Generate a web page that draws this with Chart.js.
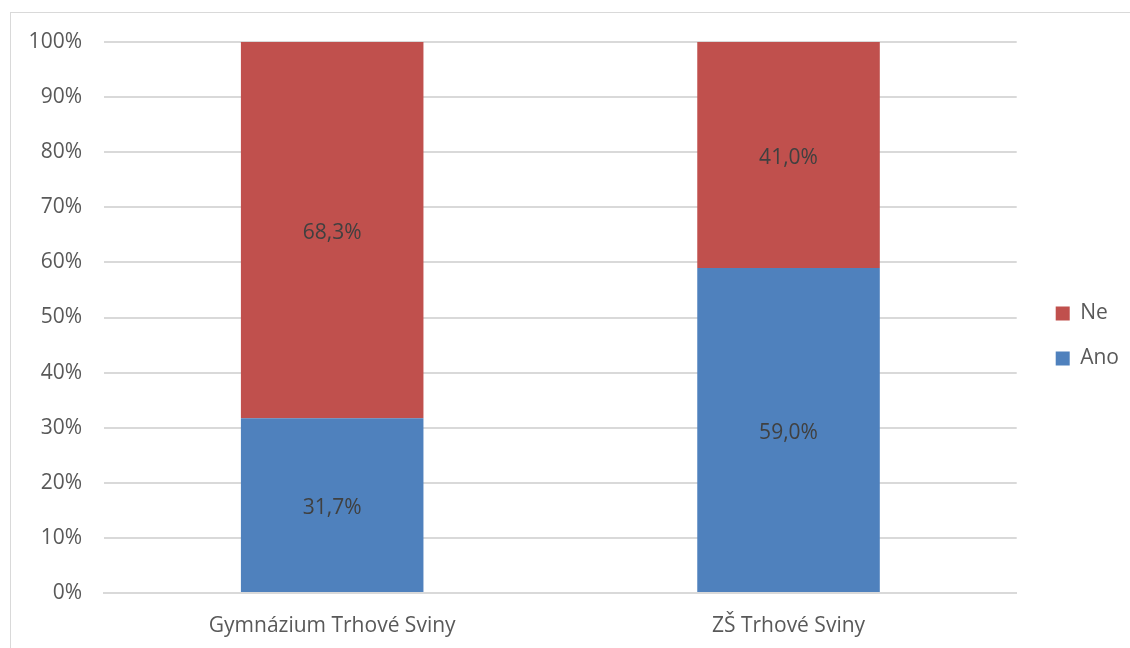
<!DOCTYPE html>
<html>
<head>
<meta charset="utf-8">
<script src="https://cdn.jsdelivr.net/npm/chart.js@4/dist/chart.umd.min.js"></script>
<style>
  html, body { margin: 0; padding: 0; background: #fff; }
  #wrap { position: relative; width: 1130px; height: 648px; overflow: hidden; }
  #frame { position: absolute; left: 10px; top: 12px; width: 1200px; height: 700px; border: 1px solid #d9d9d9; box-sizing: border-box; }
  #chartBox { position: absolute; left: 0; top: 0; width: 1130px; height: 648px; }
</style>
</head>
<body>
<div id="wrap">
  <div id="frame"></div>
  <div id="chartBox"><canvas id="chart" width="1130" height="648"></canvas></div>
</div>
<script>
// Data
const categories = ['Gymnázium Trhové Sviny', 'ZŠ Trhové Sviny'];
const ano = [31.7, 59.0];
const ne = [68.3, 41.0];
const yTicks = [0, 10, 20, 30, 40, 50, 60, 70, 80, 90, 100];

const textColor = '#595959';
const fontFamily = '"Open Sans", Lato, sans-serif';
const fontSize = 21;

// Popisky hodnot uprostřed segmentů
const valueLabels = {
    id: 'valueLabels',
    afterDatasetsDraw(chart) {
        const ctx = chart.ctx;
        ctx.save();
        ctx.font = fontSize + 'px ' + fontFamily;
        ctx.fillStyle = '#404040';
        ctx.textAlign = 'center';
        ctx.textBaseline = 'middle';
        chart.data.datasets.forEach((ds, i) => {
            chart.getDatasetMeta(i).data.forEach((bar, j) => {
                const p = bar.getProps(['x', 'y', 'base'], true);
                const txt = ds.data[j].toFixed(1).replace('.', ',') + '%';
                ctx.fillText(txt, p.x, (p.y + p.base) / 2 + 3);
            });
        });
        ctx.restore();
    }
};

// posun legendy doprava a nahoru
const legendShift = {
    id: 'legendShift',
    afterLayout(chart) {
        chart.legend.top -= 9;
        chart.legend.bottom -= 9;
        chart.legend.left += 15;
        chart.legend.right += 15;
    }
};

const ctx = document.getElementById('chart').getContext('2d');
new Chart(ctx, {
    type: 'bar',
    data: {
        labels: categories,
        datasets: [
            { label: 'Ano', data: ano, backgroundColor: '#4F81BD', barPercentage: 0.4, categoryPercentage: 1 },
            { label: 'Ne', data: ne, backgroundColor: '#C0504D', barPercentage: 0.4, categoryPercentage: 1 }
        ]
    },
    options: {
        responsive: false,
        animation: false,
        layout: { padding: { left: 0, top: 42, right: 16, bottom: 0 } },
        plugins: {
            legend: {
                position: 'right',
                reverse: true,
                labels: {
                    boxWidth: 14,
                    boxHeight: 14,
                    padding: 24,
                    color: textColor,
                    font: { family: fontFamily, size: fontSize }
                }
            },
            tooltip: { enabled: false }
        },
        scales: {
            x: {
                stacked: true,
                grid: { display: false },
                border: { color: '#d9d9d9', width: 2 },
                ticks: { color: textColor, font: { family: fontFamily, size: fontSize }, padding: 12 },
                afterFit(scale) { scale.height = 55; }
            },
            y: {
                stacked: true,
                min: 0,
                max: 100,
                afterBuildTicks(scale) { scale.ticks = yTicks.map(v => ({ value: v })); },
                grid: { color: '#d9d9d9', lineWidth: 2, drawTicks: false },
                border: { display: false },
                ticks: {
                    color: textColor,
                    font: { family: fontFamily, size: fontSize },
                    padding: 22,
                    callback: v => v + '%'
                },
                afterFit(scale) { scale.width = 104; }
            }
        }
    },
    plugins: [valueLabels, legendShift]
});
</script>
</body>
</html>
